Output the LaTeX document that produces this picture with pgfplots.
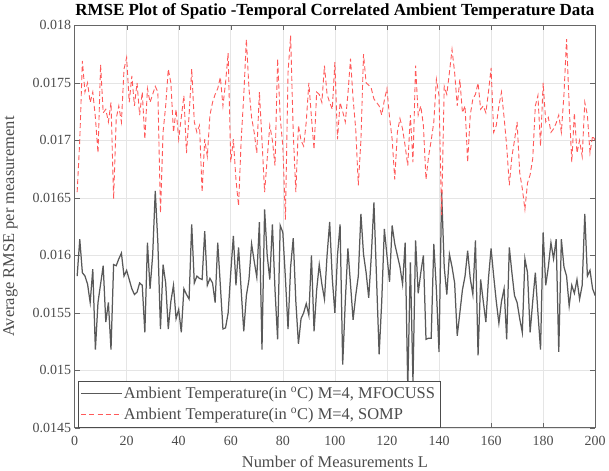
\documentclass[border=0pt]{standalone}
\usepackage{pgfplots}
\pgfplotsset{compat=1.18}
\usepackage{pgfplotstable}
\usepackage{fontspec}
\setmainfont{Liberation Serif}
\pgfplotstableread{
L v
1 0.01582
2 0.01614
3 0.01585
4 0.01582
5 0.01575
6 0.01559
7 0.01588
8 0.01518
9 0.01559
10 0.01575
11 0.01591
12 0.01542
13 0.01559
14 0.01518
15 0.01592
16 0.01591
17 0.01597
18 0.01602
19 0.01582
20 0.01587
21 0.01579
22 0.01571
23 0.01566
24 0.01568
25 0.01576
26 0.01574
27 0.01533
28 0.01611
29 0.01571
30 0.01600
31 0.01656
32 0.01611
33 0.01536
34 0.01592
35 0.01576
36 0.01536
37 0.01560
38 0.01574
39 0.01545
40 0.01553
41 0.01533
42 0.01571
43 0.01566
44 0.01562
45 0.01627
46 0.01576
47 0.01582
48 0.01580
49 0.01579
50 0.01621
51 0.01574
52 0.01580
53 0.01576
54 0.01559
55 0.01611
56 0.01574
57 0.01536
58 0.01537
59 0.01550
60 0.01585
61 0.01617
62 0.01574
63 0.01607
64 0.01570
65 0.01534
66 0.01565
67 0.01579
68 0.01610
69 0.01595
70 0.01581
71 0.01629
72 0.01518
73 0.01640
74 0.01600
75 0.01579
76 0.01627
77 0.01570
78 0.01527
79 0.01626
80 0.01620
81 0.01580
82 0.01536
83 0.01590
84 0.01615
85 0.01560
86 0.01523
87 0.01545
88 0.01550
89 0.01558
90 0.01548
91 0.01600
92 0.01534
93 0.01570
94 0.01592
95 0.01575
96 0.01562
97 0.01600
98 0.01629
99 0.01580
100 0.01550
101 0.01600
102 0.01627
103 0.01505
104 0.01560
105 0.01606
106 0.01575
107 0.01544
108 0.01565
109 0.01582
110 0.01636
111 0.01601
112 0.01585
113 0.01563
114 0.01600
115 0.01646
116 0.01580
117 0.01514
118 0.01560
119 0.01623
120 0.01600
121 0.01577
122 0.01626
123 0.01610
124 0.01600
125 0.01590
126 0.01575
127 0.01611
128 0.01485
129 0.01594
130 0.01490
131 0.01613
132 0.01567
133 0.01585
134 0.01600
135 0.01527
136 0.01528
137 0.01528
138 0.01610
139 0.01570
140 0.01516
141 0.01655
142 0.01590
143 0.01566
144 0.01601
145 0.01590
146 0.01576
147 0.01530
148 0.01550
149 0.01570
150 0.01582
151 0.01604
152 0.01580
153 0.01566
154 0.01613
155 0.01513
156 0.01579
157 0.01560
158 0.01542
159 0.01580
160 0.01606
161 0.01582
162 0.01560
163 0.01541
164 0.01560
165 0.01571
166 0.01527
167 0.01607
168 0.01585
169 0.01565
170 0.01559
171 0.01545
172 0.01533
173 0.01597
174 0.01585
175 0.01533
176 0.01560
177 0.01585
178 0.01550
179 0.01518
180 0.01620
181 0.01574
182 0.01590
183 0.01611
184 0.01597
185 0.01614
186 0.01516
187 0.01614
188 0.01590
189 0.01582
190 0.01556
191 0.01574
192 0.01567
193 0.01579
194 0.01562
195 0.01574
196 0.01636
197 0.01582
198 0.01587
199 0.01571
200 0.01565
}\mfocuss
\pgfplotstableread{
L v
1 0.01655
2 0.01700
3 0.01769
4 0.01742
5 0.01750
6 0.01733
7 0.01742
8 0.01720
9 0.01689
10 0.01766
11 0.01724
12 0.01727
13 0.01716
14 0.01733
15 0.01649
16 0.01719
17 0.01730
18 0.01716
19 0.01762
20 0.01772
21 0.01733
22 0.01756
23 0.01730
24 0.01750
25 0.01722
26 0.01742
27 0.01701
28 0.01745
29 0.01733
30 0.01740
31 0.01747
32 0.01742
33 0.01637
34 0.01707
35 0.01730
36 0.01762
37 0.01750
38 0.01707
39 0.01727
40 0.01701
41 0.01720
42 0.01739
43 0.01689
44 0.01722
45 0.01762
46 0.01716
47 0.01707
48 0.01713
49 0.01655
50 0.01701
51 0.01686
52 0.01722
53 0.01733
54 0.01740
55 0.01745
56 0.01755
57 0.01730
58 0.01750
59 0.01776
60 0.01681
61 0.01701
62 0.01666
63 0.01643
64 0.01700
65 0.01739
66 0.01788
67 0.01745
68 0.01720
69 0.01707
70 0.01689
71 0.01742
72 0.01700
73 0.01655
74 0.01684
75 0.01713
76 0.01700
77 0.01678
78 0.01771
79 0.01720
80 0.01695
81 0.01631
82 0.01759
83 0.01791
84 0.01707
85 0.01655
86 0.01713
87 0.01700
88 0.01695
89 0.01716
90 0.01750
91 0.01720
92 0.01692
93 0.01742
94 0.01740
95 0.01733
96 0.01765
97 0.01740
98 0.01733
99 0.01727
100 0.01768
101 0.01701
102 0.01733
103 0.01725
104 0.01716
105 0.01740
106 0.01771
107 0.01736
108 0.01710
109 0.01661
110 0.01700
111 0.01775
112 0.01750
113 0.01748
114 0.01745
115 0.01736
116 0.01733
117 0.01730
118 0.01722
119 0.01735
120 0.01745
121 0.01720
122 0.01701
123 0.01666
124 0.01707
125 0.01719
126 0.01710
127 0.01695
128 0.01678
129 0.01722
130 0.01681
131 0.01765
132 0.01722
133 0.01730
134 0.01713
135 0.01666
136 0.01686
137 0.01700
138 0.01716
139 0.01753
140 0.01739
141 0.01635
142 0.01747
143 0.01740
144 0.01759
145 0.01779
146 0.01759
147 0.01730
148 0.01753
149 0.01724
150 0.01730
151 0.01681
152 0.01722
153 0.01736
154 0.01740
155 0.01750
156 0.01727
157 0.01730
158 0.01724
159 0.01742
160 0.01763
161 0.01707
162 0.01713
163 0.01730
164 0.01742
165 0.01720
166 0.01695
167 0.01661
168 0.01686
169 0.01700
170 0.01716
171 0.01672
172 0.01658
173 0.01640
174 0.01663
175 0.01670
176 0.01684
177 0.01730
178 0.01739
179 0.01695
180 0.01750
181 0.01716
182 0.01720
183 0.01707
184 0.01710
185 0.01715
186 0.01722
187 0.01707
188 0.01740
189 0.01788
190 0.01730
191 0.01681
192 0.01724
193 0.01689
194 0.01700
195 0.01686
196 0.01733
197 0.01722
198 0.01689
199 0.01704
200 0.01700
}\somp
\begin{document}
\begin{tikzpicture}
\begin{axis}[
  scale only axis,
  width=520bp, height=402bp,
  xmin=0, xmax=200, ymin=0.0145, ymax=0.018,
  xtick={0,20,...,200},
  ytick={0.0145,0.015,0.0155,0.016,0.0165,0.017,0.0175,0.018},
  yticklabels={0.0145,0.015,0.0155,0.016,0.0165,0.017,0.0175,0.018},
  scaled y ticks=false,
  /pgf/number format/assume math mode=true,
  ticklabel style={font=\fontsize{14}{15}\selectfont, text=black!70},
  xticklabel style={yshift=-5bp},
  grid=major,
  major grid style={gray!20, line width=0.6pt},
  axis line style={black!60, line width=0.8pt},
  tick style={black!60},
  major tick length=5bp,
  xlabel={Number of Measurements L},
  ylabel={Average RMSE per measurement},
  label style={font=\fontsize{16.5}{18}\selectfont, text=black!70},
  xlabel style={yshift=-3bp},
  ylabel style={yshift=8bp},
  title={RMSE Plot of Spatio -Temporal Correlated Ambient Temperature Data},
  title style={font=\bfseries\fontsize{17}{18}\selectfont, yshift=-3bp},
  legend style={at={(0.006,0)}, anchor=south west, font=\fontsize{16.5}{19}\selectfont, text=black!70,
    draw=black!70, line width=0.8pt, fill=white, inner xsep=3bp, inner ysep=4bp, row sep=4bp},
  legend cell align=left,
  legend image code/.code={\draw[#1, line width=0.8pt] (0bp,0bp) -- (40bp,0bp);},
]
\addplot[color=black!65, line width=1.25pt] table[x=L, y=v] {\mfocuss};
\addlegendentry{Ambient Temperature(in $^{\mathrm{o}}$C) M=4, MFOCUSS}
\addplot[color=red!65, dash pattern=on 5bp off 3bp, line width=0.9pt] table[x=L, y=v] {\somp};
\addlegendentry{Ambient Temperature(in $^{\mathrm{o}}$C) M=4, SOMP}
\end{axis}
\end{tikzpicture}
\end{document}
